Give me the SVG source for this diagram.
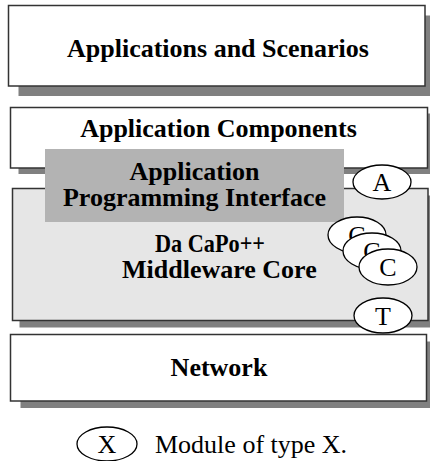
<svg xmlns="http://www.w3.org/2000/svg" width="430" height="461" viewBox="0 0 430 461">
<style>
.box{stroke:#333;stroke-width:1.5}
.shadow{fill:#808080}
.lbl{font-family:'Liberation Serif','Times New Roman',serif;font-weight:700;font-size:26px;fill:#000}
.mod{fill:#fff;stroke:#000;stroke-width:1.3}
.mt{font-family:'Liberation Serif','Times New Roman',serif;font-weight:400;font-size:26px;fill:#000;text-anchor:middle}
.lg{font-family:'Liberation Serif','Times New Roman',serif;font-weight:400;font-size:26px;fill:#000}
</style>
<rect width="430" height="461" fill="#fff"/>
<g id="applications">
<rect class="shadow" x="18.5" y="15.5" width="416.5" height="80.5"/>
<rect class="box" x="8.5" y="5.5" width="416.5" height="80.5" fill="#fff"/>
<text class="lbl" x="218" y="57" text-anchor="middle">Applications and Scenarios</text>
</g>
<g id="components">
<rect class="shadow" x="18.5" y="113.5" width="417" height="60.5"/>
<rect class="box" x="10.5" y="107.5" width="417" height="60.5" fill="#fff"/>
<text class="lbl" x="218.5" y="137" text-anchor="middle">Application Components</text>
</g>
<g id="core">
<rect class="shadow" x="19.5" y="195.5" width="415.5" height="132"/>
<rect class="box" x="12.5" y="188.5" width="415.5" height="132" fill="#e6e6e6"/>
<text class="lbl" x="155" y="252" textLength="110" lengthAdjust="spacingAndGlyphs">Da CaPo++</text>
<text class="lbl" x="122" y="278">Middleware Core</text>
</g>
<g id="api">
<rect x="45" y="149" width="299" height="73" fill="#b3b3b3"/>
<text class="lbl" x="194.5" y="180" text-anchor="middle">Application</text>
<text class="lbl" x="194.5" y="206" text-anchor="middle">Programming Interface</text>
</g>
<g id="moduleA">
<ellipse class="mod" cx="382" cy="182" rx="29" ry="17"/>
<text class="mt" x="382" y="191">A</text>
</g>
<g id="moduleC1">
<ellipse class="mod" cx="357" cy="235" rx="29" ry="18"/>
<text class="mt" x="357" y="244">C</text>
</g>
<g id="moduleC2">
<ellipse class="mod" cx="372" cy="251" rx="29" ry="18"/>
<text class="mt" x="372" y="260">C</text>
</g>
<g id="moduleC3">
<ellipse class="mod" cx="388" cy="267" rx="29" ry="18"/>
<text class="mt" x="388" y="276">C</text>
</g>
<g id="moduleT">
<ellipse class="mod" cx="383" cy="315.5" rx="29" ry="17.5"/>
<text class="mt" x="383" y="324.5">T</text>
</g>
<g id="network">
<rect class="shadow" x="20.5" y="341.5" width="416" height="66.5"/>
<rect class="box" x="10.5" y="334.5" width="416" height="66.5" fill="#fff"/>
<text class="lbl" x="219" y="376" text-anchor="middle">Network</text>
</g>
<g id="legend">
<ellipse class="mod" cx="107" cy="444" rx="30" ry="17"/>
<text class="mt" x="107" y="453">X</text>
<text class="lg" x="155" y="453">Module of type X.</text>
</g>
<g id="connectors"/>
</svg>
